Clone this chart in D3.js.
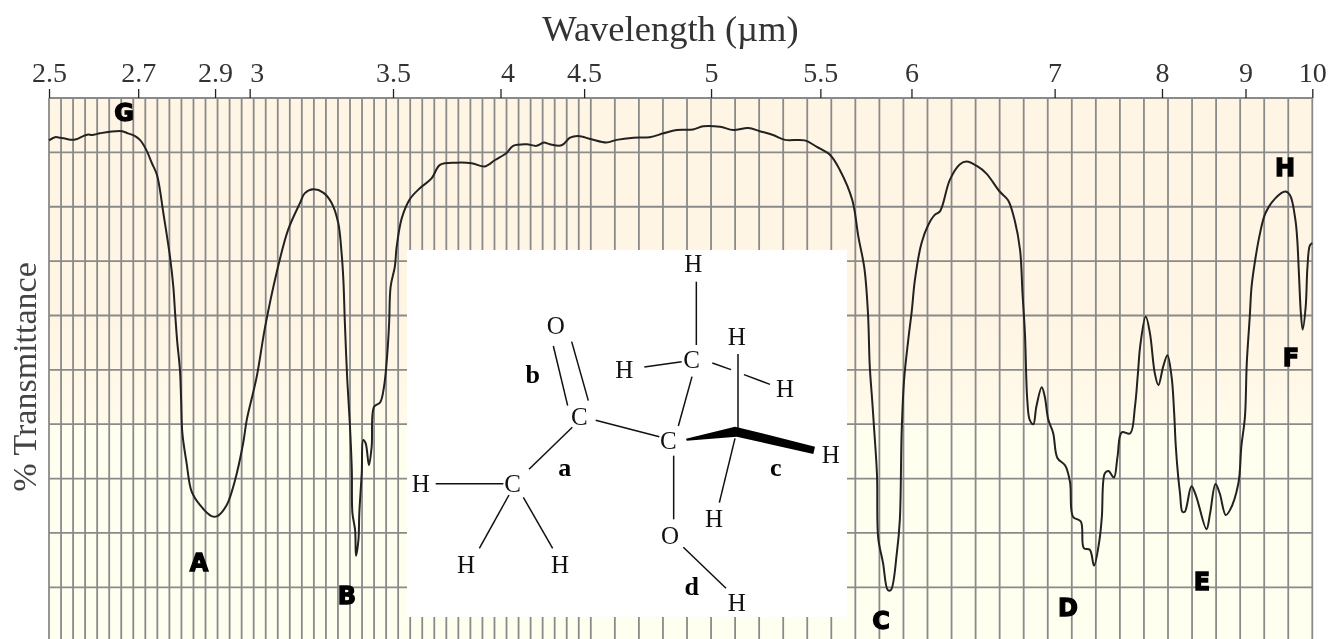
<!DOCTYPE html>
<html>
<head>
<meta charset="utf-8">
<title>IR spectrum</title>
<script src="https://cdn.jsdelivr.net/npm/d3@7"></script>
<style>
    html, body { margin: 0; padding: 0; background: #fff; overflow: hidden; }
    svg { display: block; filter: blur(0.35px); }
    text { font-family: "Liberation Serif", serif; }
</style>
</head>
<body>
<svg id="chart" width="1331" height="639"></svg>
<script>
// Wavelength ticks on the top axis (um)
var wavelengthTicks = [2.5, 2.7, 2.9, 3, 3.5, 4, 4.5, 5, 5.5, 6, 7, 8, 9, 10];
var transmittanceLines = [10, 20, 30, 40, 50, 60, 70, 80, 90, 100];

// Spectrum: wavenumber (cm-1) and % transmittance
var waveNumbers = [
    4000, 3980, 3963, 3944, 3924, 3910, 3890, 3870, 3857, 3831, 3797, 3757, 3738, 3714, 3698, 3678, 3658, 3641,
    3620, 3598, 3587, 3581, 3574, 3565, 3561, 3557, 3543, 3526, 3498, 3460, 3441, 3410, 3382, 3355, 3343, 3310,
    3282, 3244, 3206, 3166, 3150, 3122, 3089, 3061, 3039, 3028, 3022, 3017, 3009, 3000, 2994, 2992, 2983, 2980,
    2972, 2969, 2961, 2956, 2948, 2937, 2928, 2920, 2900, 2887, 2876, 2870, 2865, 2851, 2845, 2828, 2801, 2768,
    2729, 2701, 2646, 2596, 2552, 2518, 2480, 2458, 2413, 2380, 2356, 2336, 2297, 2269, 2242, 2199, 2174, 2157,
    2129, 2102, 2079, 2057, 2030, 2013, 1985, 1963, 1938, 1919, 1897, 1877, 1844, 1824, 1802, 1786, 1765, 1755,
    1745, 1739, 1736, 1732, 1729, 1724, 1722, 1714, 1706, 1701, 1691, 1686, 1683, 1679, 1672, 1666, 1661, 1650,
    1639, 1628, 1619, 1603, 1586, 1575, 1558, 1542, 1520, 1506, 1495, 1486, 1482, 1478, 1474, 1470, 1464, 1459,
    1450, 1445, 1439, 1431, 1424, 1411, 1403, 1398, 1385, 1380, 1370, 1363, 1354, 1350, 1345, 1339, 1330, 1324,
    1317, 1303, 1295, 1290, 1286, 1277, 1270, 1262, 1256, 1248, 1241, 1234, 1230, 1227, 1223, 1220, 1216, 1212,
    1201, 1193, 1176, 1170, 1161, 1154, 1144, 1137, 1123, 1118, 1112, 1109, 1104, 1101, 1095, 1087, 1078, 1062,
    1045, 1037, 1028, 1025, 1022, 1019, 1016, 1011, 1008, 1004, 1000
];
var transmittance = [
    92.2, 92.8, 92.7, 92.5, 92.3, 92.4, 92.9, 93.3, 93.2, 93.5, 93.8, 93.9, 93.5, 93.0, 92.3, 90.6, 88.0, 85.8,
    78.8, 70.8, 65.3, 60.4, 55.2, 50.0, 44.4, 38.4, 32.9, 27.6, 25.1, 23.1, 23.1, 25.1, 29.7, 36.5, 40.8, 48.7,
    57.9, 67.8, 75.7, 80.7, 82.5, 83.2, 82.6, 80.7, 77.0, 71.5, 66.5, 58.6, 48.1, 39.5, 31.6, 23.7, 20.5, 15.8,
    18.7, 23.7, 31.0, 37.1, 36.5, 32.5, 35.9, 43.2, 44.0, 46.9, 53.0, 58.6, 65.3, 69.0, 72.6, 77.9, 81.4, 83.4,
    85.2, 87.7, 88.1, 88.0, 87.4, 88.6, 89.9, 91.2, 91.5, 91.2, 91.8, 91.5, 91.3, 92.7, 93.0, 92.4, 91.8, 92.3,
    92.7, 92.8, 93.5, 94.1, 94.2, 94.8, 94.7, 94.1, 94.5, 93.9, 93.2, 92.3, 92.2, 91.0, 89.5, 86.8, 81.2, 74.5,
    68.7, 60.4, 50.6, 44.4, 39.5, 30.7, 19.1, 14.5, 9.5, 9.5, 16.3, 22.4, 38.4, 48.1, 55.5, 61.0, 66.5, 73.3,
    76.6, 78.5, 79.2, 84.9, 87.8, 88.3, 87.5, 86.1, 82.8, 81.2, 77.5, 72.0, 64.1, 56.8, 44.4, 40.8, 40.0, 43.2,
    46.8, 45.1, 40.8, 38.4, 33.8, 32.4, 29.4, 23.0, 22.1, 17.2, 16.9, 14.0, 18.7, 23.0, 31.0, 31.4, 30.2, 34.0,
    38.5, 38.3, 43.2, 49.4, 54.6, 59.8, 56.7, 49.4, 47.2, 50.6, 52.7, 48.7, 42.6, 35.9, 30.3, 27.3, 23.9, 23.9,
    28.6, 26.7, 20.7, 23.6, 29.0, 27.3, 23.3, 24.2, 29.1, 35.9, 41.4, 51.2, 59.8, 65.3, 70.2, 75.1, 78.8, 81.5,
    82.8, 82.1, 77.5, 73.9, 67.1, 60.4, 57.4, 61.6, 69.0, 72.9, 73.3
];
var peakNames = ["G", "A", "B", "C", "D", "E", "F", "H"];

var svg = d3.select("#chart");
var plotLeft = 49, plotBreak = 590.8, plotRight = 1312.3, plotTop = 98, plotBottom = 641.7;

// The chart paper changes scale at 2200 cm-1
var x = d3.scaleLinear().domain([4000, 2200, 1000]).range([plotLeft, plotBreak, plotRight]);
var y = d3.scaleLinear().domain([0, 100]).range([plotBottom, plotTop]);

// Paper colour
var gradient = svg.append("defs").append("linearGradient")
    .attr("id", "paper")
    .attr("x1", 0).attr("x2", 0).attr("y1", 0).attr("y2", 1);
gradient.append("stop").attr("offset", 0.4).attr("stop-color", "#fff5e4");
gradient.append("stop").attr("offset", 0.6).attr("stop-color", "#fffaea");
gradient.append("stop").attr("offset", 0.6).attr("stop-color", "#fffff0");

svg.append("rect")
    .attr("x", plotLeft)
    .attr("y", plotTop)
    .attr("width", plotRight - plotLeft)
    .attr("height", plotBottom - plotTop)
    .attr("fill", "url(#paper)");

// Grid: one vertical line every 40 cm-1
svg.append("g").selectAll("line")
    .data(d3.range(4000, 999, -40))
    .enter().append("line")
    .attr("x1", function(d) { return x(d); })
    .attr("x2", function(d) { return x(d); })
    .attr("y1", plotTop)
    .attr("y2", 639)
    .attr("stroke", "#8a8a8a")
    .attr("stroke-width", 1.8);

svg.append("g").selectAll("line")
    .data(transmittanceLines)
    .enter().append("line")
    .attr("x1", plotLeft)
    .attr("x2", plotRight)
    .attr("y1", function(d) { return y(d); })
    .attr("y2", function(d) { return y(d); })
    .attr("stroke", "#8a8a8a")
    .attr("stroke-width", 1.8);

// Top axis, labelled in wavelength
var axis = d3.axisTop(x)
    .tickValues(wavelengthTicks.map(function(d) { return 10000 / d; }))
    .tickFormat(function(d) { return String(Math.round(10000 / d * 10) / 10); })
    .tickSize(9)
    .tickPadding(7);

var axisGroup = svg.append("g")
    .attr("transform", "translate(0," + plotTop + ")")
    .call(axis);
axisGroup.select(".domain").remove();
axisGroup.selectAll(".tick line").attr("stroke", "#222").attr("stroke-width", 1.3);
axisGroup.selectAll(".tick text")
    .attr("fill", "#333")
    .style("font-family", "'Liberation Serif', serif")
    .style("font-size", "28px")
    .attr("dx", function(d)
    {
        // 3 and 4 sit a little to the right of their ticks
        var label = Math.round(10000 / d * 10) / 10;
        return (label === 3 || label === 4) ? 7 : 0;
    });

svg.append("text")
    .attr("x", 670.5)
    .attr("y", 41)
    .attr("text-anchor", "middle")
    .attr("fill", "#333")
    .style("font-size", "36.5px")
    .text("Wavelength (µm)");

svg.append("text")
    .attr("transform", "translate(36,377) rotate(-90)")
    .attr("text-anchor", "middle")
    .attr("fill", "#444")
    .style("font-size", "34px")
    .text("% Transmittance");

// Spectrum
var line = d3.line()
    .x(function(d) { return x(d); })
    .y(function(d, i) { return y(transmittance[i]); })
    .curve(d3.curveCatmullRom.alpha(0.5));

svg.append("path")
    .attr("d", line(waveNumbers))
    .attr("fill", "none")
    .attr("stroke", "#222")
    .attr("stroke-width", 2)
    .attr("stroke-linejoin", "round");

// Peak letters, placed in page pixels
var peakSpots = { G: [124, 112], A: [199, 562], B: [347, 595], C: [881, 620], D: [1068, 607], E: [1202, 581], F: [1291, 357], H: [1285, 167] };

svg.append("g").selectAll("text")
    .data(peakNames)
    .enter().append("text")
    .attr("x", function(d) { return peakSpots[d][0]; })
    .attr("y", function(d) { return peakSpots[d][1]; })
    .attr("dy", "0.36em")
    .attr("text-anchor", "middle")
    .attr("fill", "#000")
    .attr("stroke", "#000")
    .attr("stroke-width", 1.3)
    .style("font-family", "'DejaVu Sans', sans-serif")
    .style("font-weight", "bold")
    .style("font-size", "24px")
    .text(function(d) { return d; });

// Inset with the molecule. Its drawing coordinates are a 1380 x 1197 sheet
var insetX = d3.scaleLinear().domain([0, 1380]).range([400, 860]);
var insetY = d3.scaleLinear().domain([0, 1197]).range([240, 639]);

var atoms = [
    ["H", 880, 70], ["O", 467, 257], ["H", 1010, 290], ["C", 875, 358], ["H", 673, 388], ["H", 1155, 445],
    ["C", 538, 530], ["C", 805, 602], ["H", 1292, 643], ["H", 62, 730], ["C", 338, 732], ["H", 942, 836],
    ["O", 810, 886], ["H", 198, 975], ["H", 480, 975], ["H", 1010, 1087]
];
var bondLabels = [["b", 398, 405], ["a", 494, 685], ["c", 1127, 685], ["d", 875, 1042]];
var bonds = [
    [889, 125, 889, 315], [733, 381, 845, 365], [937, 369, 993, 389], [1032, 404, 1110, 433],
    [1014, 342, 1014, 565], [876, 410, 835, 558], [460, 318, 503, 497], [515, 305, 565, 482],
    [587, 541, 778, 590], [517, 562, 387, 688], [107, 731, 310, 731], [327, 765, 238, 925],
    [370, 772, 458, 925], [821, 647, 821, 838], [1005, 595, 958, 788], [850, 922, 978, 1045]
];
var wedge = [[858, 596], [1005, 560], [1030, 566], [1245, 620], [1240, 642], [1010, 590], [860, 602]];

svg.append("rect")
    .attr("x", 407)
    .attr("y", 250)
    .attr("width", 440)
    .attr("height", 367)
    .attr("fill", "#fff");

svg.append("g").selectAll("line")
    .data(bonds)
    .enter().append("line")
    .attr("x1", function(d) { return insetX(d[0]); })
    .attr("y1", function(d) { return insetY(d[1]); })
    .attr("x2", function(d) { return insetX(d[2]); })
    .attr("y2", function(d) { return insetY(d[3]); })
    .attr("stroke", "#111")
    .attr("stroke-width", 1.5);

svg.append("polygon")
    .attr("points", wedge.map(function(d) { return insetX(d[0]) + "," + insetY(d[1]); }).join(" "))
    .attr("fill", "#000");

svg.append("g").selectAll("text")
    .data(atoms)
    .enter().append("text")
    .attr("x", function(d) { return insetX(d[1]); })
    .attr("y", function(d) { return insetY(d[2]); })
    .attr("dy", "0.33em")
    .attr("text-anchor", "middle")
    .attr("fill", "#111")
    .style("font-size", "25px")
    .text(function(d) { return d[0]; });

svg.append("g").selectAll("text")
    .data(bondLabels)
    .enter().append("text")
    .attr("x", function(d) { return insetX(d[1]); })
    .attr("y", function(d) { return insetY(d[2]); })
    .attr("dy", "0.3em")
    .attr("text-anchor", "middle")
    .attr("fill", "#000")
    .style("font-weight", "bold")
    .style("font-size", "26px")
    .text(function(d) { return d[0]; });
</script>
</body>
</html>
